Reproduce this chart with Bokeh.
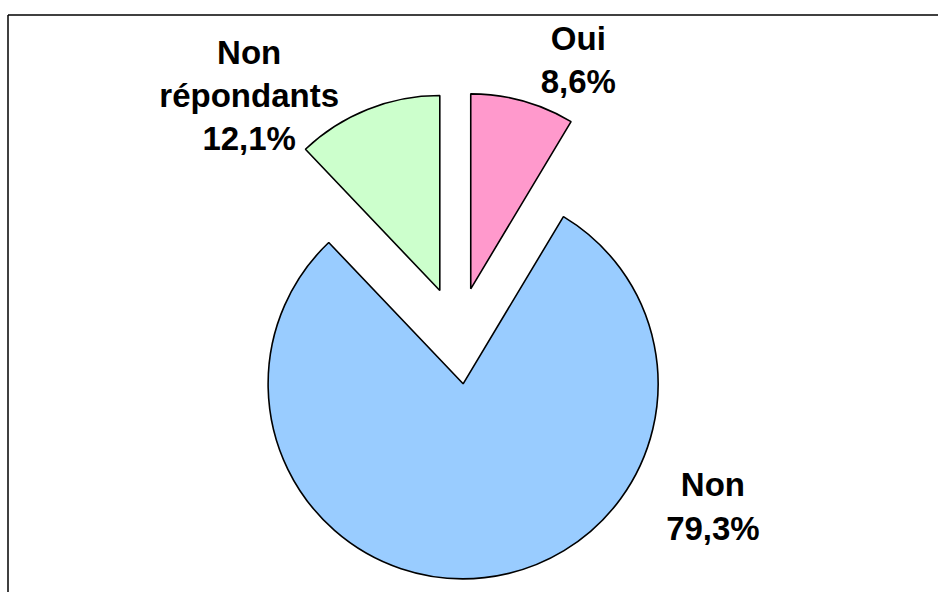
import math
from bokeh.plotting import figure
from bokeh.models import ColumnDataSource, Range1d
from bokeh.core.properties import value
from bokeh.embed import file_html
from bokeh.resources import INLINE

# ---- data ----
categories = ["Oui", "Non", "Non répondants"]
percentages = [8.6, 79.3, 12.1]
label_names = ["Oui", "Non", "Non\nrépondants"]
colors = ["#FF99CC", "#99CCFF", "#CCFFCC"]

# ---- layout (pixels == data units) ----
W, H = 938, 592
CX, CY = 457.3, 256.9
R = 195
EXPLODE = 48.5
label_angle_deg = [23.6, 123.8, -41.0]
label_dist = [301, 307, 318]

total = sum(percentages)
xs, ys, starts, ends = [], [], [], []
lx, ly, ltext = [], [], []
cum = 0.0
for i, v in enumerate(percentages):
    t0 = cum / total * 2 * math.pi
    t1 = (cum + v) / total * 2 * math.pi
    mid = (t0 + t1) / 2
    cum += v
    xs.append(CX + EXPLODE * math.sin(mid))
    ys.append(CY + EXPLODE * math.cos(mid))
    starts.append(math.pi / 2 - t0)
    ends.append(math.pi / 2 - t1)
    a = math.radians(label_angle_deg[i])
    lx.append(CX + label_dist[i] * math.sin(a))
    ly.append(CY + label_dist[i] * math.cos(a))
    ltext.append(label_names[i] + "\n" + f"{v:.1f}%".replace(".", ","))

src = ColumnDataSource(dict(x=xs, y=ys, start=starts, end=ends, color=colors, cat=categories))
lsrc = ColumnDataSource(dict(x=lx, y=ly, text=ltext))

p = figure(width=W, height=H, output_backend="svg", toolbar_location=None,
           x_range=Range1d(0, W), y_range=Range1d(0, H), min_border=0)
p.axis.visible = False
p.grid.visible = False
p.outline_line_color = None
p.background_fill_color = "white"
p.border_fill_color = "white"

# chart-area border (top and left edges visible in the crop)
p.segment(x0=[7.5, 7.5], y0=[H - 14.5, H - 14.5], x1=[W, 7.5], y1=[H - 14.5, 0],
          line_color="black", line_width=1.5)

p.wedge(x="x", y="y", radius=R, start_angle="start", end_angle="end",
        direction="clock", fill_color="color", line_color="black",
        line_width=1.6, source=src)

p.text(x="x", y="y", text="text", source=lsrc, text_align="center",
       text_baseline="middle", text_font=value("Liberation Sans"),
       text_font_style="bold", text_font_size="33px", text_color="black",
       text_line_height=1.17)

open("out.html", "w").write(file_html(p, INLINE))
